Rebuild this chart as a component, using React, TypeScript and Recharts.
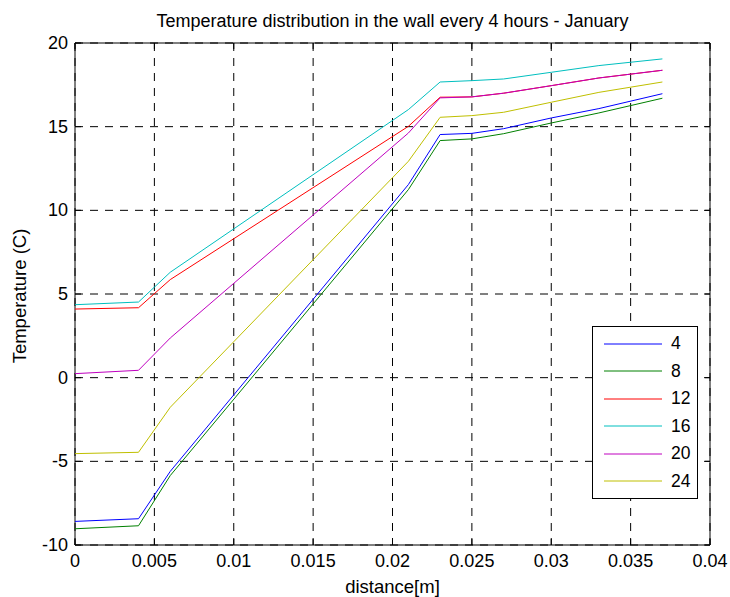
import React from 'react'
import {
  LineChart,
  Line,
  XAxis,
  YAxis,
  CartesianGrid,
  Legend,
  ReferenceArea
} from 'recharts'

// distance through the wall [m]
const distance = [0, 0.004, 0.006, 0.021, 0.023, 0.025, 0.027, 0.03, 0.033, 0.037]

// temperature (C) at each hour
const h4 = [-8.59, -8.43, -5.6, 11.54, 14.53, 14.6, 14.88, 15.52, 16.08, 16.97]
const h8 = [-9.03, -8.85, -5.85, 11.24, 14.17, 14.27, 14.58, 15.22, 15.82, 16.7]
const h12 = [4.1, 4.18, 5.86, 15.02, 16.76, 16.78, 17.0, 17.45, 17.91, 18.37]
const h16 = [4.36, 4.52, 6.3, 16.02, 17.67, 17.75, 17.85, 18.25, 18.65, 19.05]
const h20 = [0.24, 0.44, 2.37, 14.62, 16.72, 16.78, 17.0, 17.45, 17.91, 18.37]
const h24 = [-4.54, -4.46, -1.77, 12.93, 15.56, 15.66, 15.86, 16.46, 17.05, 17.67]

const xTicks = [0, 0.005, 0.01, 0.015, 0.02, 0.025, 0.03, 0.035, 0.04]
const yTicks = [-10, -5, 0, 5, 10, 15, 20]

const series = [
  { key: 'h4', name: '4', values: h4, color: '#0000ff' },
  { key: 'h8', name: '8', values: h8, color: '#008000' },
  { key: 'h12', name: '12', values: h12, color: '#ff0000' },
  { key: 'h16', name: '16', values: h16, color: '#00bfbf' },
  { key: 'h20', name: '20', values: h20, color: '#bf00bf' },
  { key: 'h24', name: '24', values: h24, color: '#bfbf00' }
]

const data = distance.map((d, i) => {
  const row: any = { d }
  series.forEach((s) => {
    row[s.key] = s.values[i]
  })
  return row
})

const FONT = '"Liberation Sans", Arial, sans-serif'
const PLOT_W = 635
const PLOT_H = 502

const fmtX = (v: number) => (v === 0 ? '0' : String(+v.toFixed(3)))

// MATLAB style: ticks point inward on all four sides, labels outside
const BottomTick = (props: any) => {
  const { x, y, payload } = props
  return (
    <g>
      <line x1={x} y1={y} x2={x} y2={y - 6} stroke="#000" />
      <line x1={x} y1={y - PLOT_H} x2={x} y2={y - PLOT_H + 6} stroke="#000" />
      <text x={x} y={y + 22} textAnchor="middle" fontSize={18} fontFamily={FONT} fill="#000">
        {fmtX(payload.value)}
      </text>
    </g>
  )
}

const LeftTick = (props: any) => {
  const { x, y, payload } = props
  return (
    <g>
      <line x1={x} y1={y} x2={x + 6} y2={y} stroke="#000" />
      <line x1={x + PLOT_W} y1={y} x2={x + PLOT_W - 6} y2={y} stroke="#000" />
      <text x={x - 7} y={y + 6} textAnchor="end" fontSize={18} fontFamily={FONT} fill="#000">
        {payload.value}
      </text>
    </g>
  )
}

const LegendBox = () => (
  <div
    style={{
      width: 106,
      height: 173,
      border: '1px solid #000',
      background: '#fff',
      boxSizing: 'border-box',
      paddingTop: 3
    }}
  >
    {series.map((s) => (
      <div key={s.key} style={{ display: 'flex', alignItems: 'center', height: 27.5 }}>
        <svg width={70} height={10}>
          <line x1={11} y1={5} x2={69} y2={5} stroke={s.color} strokeWidth={1} />
        </svg>
        <span style={{ fontFamily: FONT, fontSize: 17.5, marginLeft: 8, color: '#000' }}>{s.name}</span>
      </div>
    ))}
  </div>
)

export default function App() {
  return (
    <div style={{ position: 'absolute', left: 0, top: 0, width: 730, height: 597, background: '#fff' }}>
      <div
        style={{
          position: 'absolute',
          top: 11,
          left: 75,
          width: 635,
          textAlign: 'center',
          fontFamily: FONT,
          fontSize: 18,
          whiteSpace: 'nowrap',
          color: '#000'
        }}
      >
        Temperature distribution in the wall every 4 hours - January
      </div>
      <div
        style={{
          position: 'absolute',
          left: 20,
          top: 296,
          transform: 'translate(-50%, -50%) rotate(-90deg)',
          fontFamily: FONT,
          fontSize: 18.5,
          whiteSpace: 'nowrap',
          color: '#000'
        }}
      >
        Temperature (C)
      </div>
      <div
        style={{
          position: 'absolute',
          top: 576,
          left: 75,
          width: 635,
          textAlign: 'center',
          fontFamily: FONT,
          fontSize: 18.5,
          color: '#000'
        }}
      >
        distance[m]
      </div>
      <LineChart
        width={730}
        height={597}
        data={data}
        margin={{ top: 43, right: 20, bottom: 0, left: 0 }}
      >
        <CartesianGrid stroke="#000" strokeDasharray="8 7" />
        <XAxis
          dataKey="d"
          type="number"
          domain={[0, 0.04]}
          ticks={xTicks}
          height={52}
          tickSize={0}
          tickMargin={0}
          axisLine={false}
          tickLine={false}
          tick={<BottomTick />}
          interval={0}
        />
        <YAxis
          type="number"
          domain={[-10, 20]}
          ticks={yTicks}
          width={75}
          tickSize={0}
          tickMargin={0}
          axisLine={false}
          tickLine={false}
          tick={<LeftTick />}
          interval={0}
        />
        <ReferenceArea
          x1={0}
          x2={0.04}
          y1={-10}
          y2={20}
          fill="none"
          stroke="#000"
          strokeWidth={1}
          ifOverflow="visible"
        />
        {series.map((s) => (
          <Line
            key={s.key}
            type="linear"
            dataKey={s.key}
            name={s.name}
            stroke={s.color}
            strokeWidth={1}
            dot={false}
            isAnimationActive={false}
          />
        ))}
        <Legend
          layout="horizontal"
          verticalAlign="middle"
          align="center"
          content={<LegendBox />}
          wrapperStyle={{ position: 'absolute', left: 592, top: 326, width: 106 }}
        />
      </LineChart>
    </div>
  )
}
